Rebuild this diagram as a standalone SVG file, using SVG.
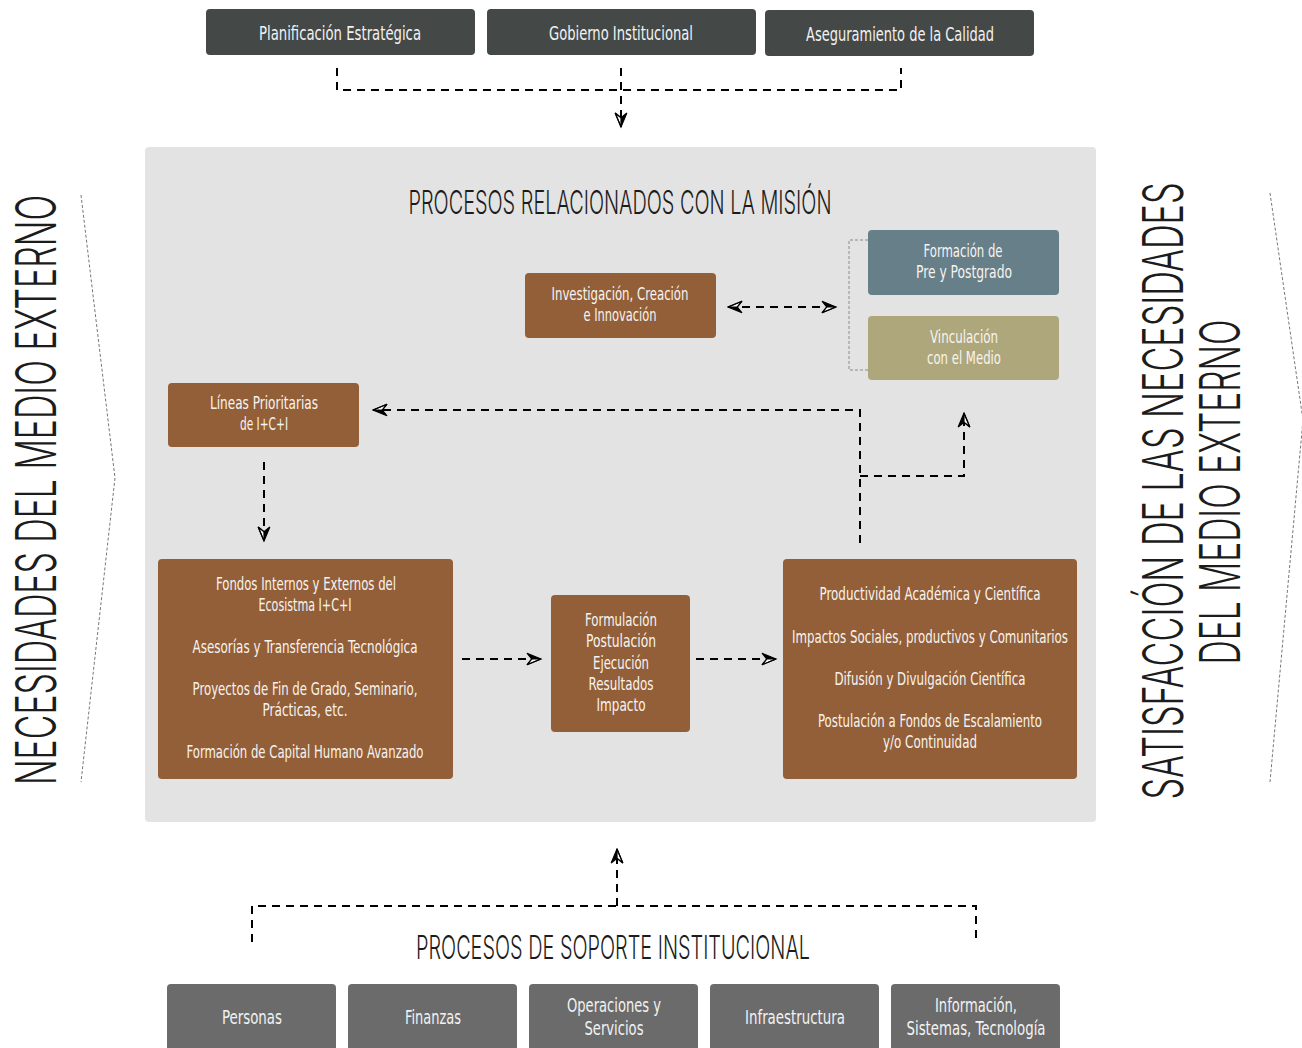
<svg xmlns="http://www.w3.org/2000/svg" width="1302" height="1048" viewBox="0 0 1302 1048">
<style>
text{font-family:"Liberation Sans Narrow","DejaVu Sans Condensed","Liberation Sans",sans-serif;text-anchor:middle}
.w{fill:#f7f4f0;font-size:18px}
.wt{fill:#f2f2f2;font-size:20px}
.wb{fill:#f2f2f2;font-size:19px}
.h{fill:#1c1c1c;font-size:33px;font-family:Inter,"Open Sans","Liberation Sans",sans-serif;font-weight:300}
.v{fill:#1c1c1c;font-size:56px;font-family:Inter,"Open Sans","Liberation Sans",sans-serif;font-weight:300}
.top{fill:#444947}
.bot{fill:#6b6b6b}
.br{fill:#935f39}
.dash{fill:none;stroke:#000;stroke-width:2;stroke-dasharray:8,6}
.thin{fill:none;stroke:#8a8a8a;stroke-width:1;stroke-dasharray:3,2}
.arr{marker-end:url(#ah)}
</style>
<defs>
<marker id="ah" viewBox="0 0 14 12" refX="13" refY="6" markerWidth="17" markerHeight="14" markerUnits="userSpaceOnUse" orient="auto-start-reverse">
<path d="M1,1 L13,6 L5,6 Z" fill="#000"/>
<path d="M1,11 L13,6 L5,6 Z" fill="#fff" stroke="#000" stroke-width="1"/>
<path d="M1,1 L13,6 L1,11 L5,6 Z" fill="none" stroke="#000" stroke-width="1"/>
</marker>
</defs>
<rect x="0" y="0" width="1302" height="1048" fill="#fff"/>

<g id="panel"><rect x="145" y="147" width="951" height="675" rx="4" fill="#e3e3e3"/>
<text class="h" x="620" y="214" textLength="423" lengthAdjust="spacingAndGlyphs">PROCESOS RELACIONADOS CON LA MISIÓN</text></g>

<g id="side-left">
<text class="v" transform="translate(56,490) rotate(-90) scale(0.55,1)" x="0" y="0" textLength="1073" lengthAdjust="spacingAndGlyphs">NECESIDADES DEL MEDIO EXTERNO</text>
<polyline points="81,195 115,478 81,782" fill="none" stroke="#777" stroke-width="1" stroke-dasharray="3,2"/>
</g>
<g id="side-right">
<text class="v" transform="translate(1183,491) rotate(-90) scale(0.55,1)" x="0" y="0" textLength="1122" lengthAdjust="spacingAndGlyphs">SATISFACCIÓN DE LAS NECESIDADES</text>
<text class="v" transform="translate(1240,492) rotate(-90) scale(0.55,1)" x="0" y="0" textLength="627" lengthAdjust="spacingAndGlyphs">DEL MEDIO EXTERNO</text>
<polyline points="1270,193 1303,420 1270,782" fill="none" stroke="#777" stroke-width="1" stroke-dasharray="3,2"/>
</g>

<g id="top-planificacion"><rect class="top" x="206" y="9" width="269" height="46" rx="4"/><text class="wt" x="340" y="40" textLength="162" lengthAdjust="spacingAndGlyphs">Planificación Estratégica</text></g>
<g id="top-gobierno"><rect class="top" x="487" y="9" width="269" height="46" rx="4"/><text class="wt" x="621" y="40" textLength="144" lengthAdjust="spacingAndGlyphs">Gobierno Institucional</text></g>
<g id="top-calidad"><rect class="top" x="765" y="10" width="269" height="46" rx="4"/><text class="wt" x="900" y="41" textLength="188" lengthAdjust="spacingAndGlyphs">Aseguramiento de la Calidad</text></g>

<g id="investigacion"><rect class="br" x="525" y="273" width="191" height="65" rx="4"/>
<text class="w" x="620" y="300" textLength="137" lengthAdjust="spacingAndGlyphs">Investigación, Creación</text>
<text class="w" x="620" y="321" textLength="73" lengthAdjust="spacingAndGlyphs">e Innovación</text></g>

<g id="formacion"><rect x="868" y="230" width="191" height="65" rx="4" fill="#677f88"/>
<text class="w" x="963" y="257" textLength="79" lengthAdjust="spacingAndGlyphs">Formación de</text>
<text class="w" x="964" y="278" textLength="96" lengthAdjust="spacingAndGlyphs">Pre y Postgrado</text></g>

<g id="vinculacion"><rect x="868" y="316" width="191" height="64" rx="4" fill="#aea77b"/>
<text class="w" x="964" y="343" textLength="68" lengthAdjust="spacingAndGlyphs">Vinculación</text>
<text class="w" x="964" y="364" textLength="74" lengthAdjust="spacingAndGlyphs">con el Medio</text></g>

<g id="lineas"><rect class="br" x="168" y="383" width="191" height="64" rx="4"/>
<text class="w" x="264" y="409" textLength="108" lengthAdjust="spacingAndGlyphs">Líneas Prioritarias</text>
<text class="w" x="264" y="430" textLength="48" lengthAdjust="spacingAndGlyphs">de I+C+I</text></g>

<g id="fondos"><rect class="br" x="158" y="559" width="295" height="220" rx="4"/>
<text class="w" x="306" y="590" textLength="180" lengthAdjust="spacingAndGlyphs">Fondos Internos y Externos del</text>
<text class="w" x="305" y="611" textLength="93" lengthAdjust="spacingAndGlyphs">Ecosistma I+C+I</text>
<text class="w" x="305" y="653" textLength="225" lengthAdjust="spacingAndGlyphs">Asesorías y Transferencia Tecnológica</text>
<text class="w" x="305" y="695" textLength="225" lengthAdjust="spacingAndGlyphs">Proyectos de Fin de Grado, Seminario,</text>
<text class="w" x="305" y="716" textLength="85" lengthAdjust="spacingAndGlyphs">Prácticas, etc.</text>
<text class="w" x="305" y="758" textLength="237" lengthAdjust="spacingAndGlyphs">Formación de Capital Humano Avanzado</text></g>

<g id="proceso"><rect class="br" x="551" y="595" width="139" height="137" rx="4"/>
<text class="w" x="621" y="626" textLength="72" lengthAdjust="spacingAndGlyphs">Formulación</text>
<text class="w" x="621" y="647" textLength="70" lengthAdjust="spacingAndGlyphs">Postulación</text>
<text class="w" x="621" y="669" textLength="56" lengthAdjust="spacingAndGlyphs">Ejecución</text>
<text class="w" x="621" y="690" textLength="65" lengthAdjust="spacingAndGlyphs">Resultados</text>
<text class="w" x="621" y="711" textLength="49" lengthAdjust="spacingAndGlyphs">Impacto</text></g>

<g id="resultados"><rect class="br" x="783" y="559" width="294" height="220" rx="4"/>
<text class="w" x="930" y="600" textLength="221" lengthAdjust="spacingAndGlyphs">Productividad Académica y Científica</text>
<text class="w" x="930" y="643" textLength="276" lengthAdjust="spacingAndGlyphs">Impactos Sociales, productivos y Comunitarios</text>
<text class="w" x="930" y="685" textLength="191" lengthAdjust="spacingAndGlyphs">Difusión y Divulgación Científica</text>
<text class="w" x="930" y="727" textLength="224" lengthAdjust="spacingAndGlyphs">Postulación a Fondos de Escalamiento</text>
<text class="w" x="930" y="748" textLength="94" lengthAdjust="spacingAndGlyphs">y/o Continuidad</text></g>

<g id="soporte-title"><text class="h" x="613" y="959" textLength="394" lengthAdjust="spacingAndGlyphs">PROCESOS DE SOPORTE INSTITUCIONAL</text></g>

<g id="bot-personas"><rect class="bot" x="167" y="984" width="169" height="74" rx="4"/><text class="wb" x="252" y="1024" textLength="60" lengthAdjust="spacingAndGlyphs">Personas</text></g>
<g id="bot-finanzas"><rect class="bot" x="348" y="984" width="169" height="74" rx="4"/><text class="wb" x="433" y="1024" textLength="56" lengthAdjust="spacingAndGlyphs">Finanzas</text></g>
<g id="bot-operaciones"><rect class="bot" x="529" y="984" width="169" height="74" rx="4"/><text class="wb" x="614" y="1012" textLength="94" lengthAdjust="spacingAndGlyphs">Operaciones y</text><text class="wb" x="614" y="1035" textLength="59" lengthAdjust="spacingAndGlyphs">Servicios</text></g>
<g id="bot-infraestructura"><rect class="bot" x="710" y="984" width="169" height="74" rx="4"/><text class="wb" x="795" y="1024" textLength="100" lengthAdjust="spacingAndGlyphs">Infraestructura</text></g>
<g id="bot-informacion"><rect class="bot" x="891" y="984" width="169" height="74" rx="4"/><text class="wb" x="976" y="1012" textLength="82" lengthAdjust="spacingAndGlyphs">Información,</text><text class="wb" x="976" y="1035" textLength="139" lengthAdjust="spacingAndGlyphs">Sistemas, Tecnología</text></g>

<g id="connectors">
<path class="dash" d="M337,68 V90 H901 V68"/>
<path class="dash arr" d="M621,68 V127"/>
<path class="dash" d="M728,307 H836" marker-start="url(#ah)" marker-end="url(#ah)"/>
<path class="thin" d="M868,240 H849 V370 H868"/>
<path class="dash arr" d="M264,462 V541"/>
<path class="dash arr" d="M860,543 V410 H373"/>
<path class="dash arr" d="M860,476 H964 V413"/>
<path class="dash arr" d="M462,659 H541"/>
<path class="dash arr" d="M696,659 H776"/>
<path class="dash" d="M252,942 V906 H976 V942"/>
<path class="dash arr" d="M617,906 V849"/>
</g>
</svg>
